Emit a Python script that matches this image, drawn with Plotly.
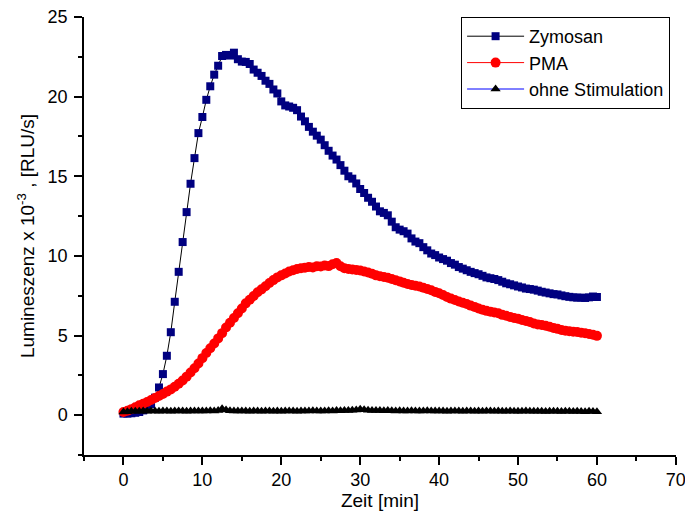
import plotly.graph_objects as go

# time grid (min), sampling every 0.5 min
time_min = [i * 0.5 for i in range(121)]

zymosan = [
    0.10, 0.10, 0.12, 0.15, 0.20, 0.30, 0.45, 0.70, 1.10, 1.74,
    2.58, 3.73, 5.21, 7.12, 9.00, 10.87, 12.75, 14.53, 16.14, 17.71,
    18.72, 19.80, 20.65, 21.38, 21.94, 22.55, 22.62, 22.58, 22.76, 22.35,
    22.20, 22.18, 22.05, 21.70, 21.50, 21.30, 21.00, 20.80, 20.45, 20.20,
    19.70, 19.45, 19.38, 19.30, 19.15, 18.75, 18.45, 18.10, 17.80, 17.55,
    17.30, 16.95, 16.60, 16.30, 16.05, 15.70, 15.35, 15.00, 14.85, 14.55,
    14.20, 13.95, 13.65, 13.40, 13.10, 12.80, 12.70, 12.55, 12.15, 11.80,
    11.65, 11.55, 11.40, 11.10, 10.90, 10.80, 10.55, 10.35, 10.15, 10.05,
    9.90, 9.80, 9.70, 9.55, 9.45, 9.30, 9.20, 9.10, 9.00, 8.92,
    8.85, 8.75, 8.65, 8.60, 8.55, 8.48, 8.38, 8.28, 8.22, 8.15,
    8.08, 8.02, 7.95, 7.92, 7.88, 7.82, 7.75, 7.70, 7.65, 7.60,
    7.58, 7.52, 7.47, 7.43, 7.40, 7.38, 7.38, 7.36, 7.40, 7.45,
    7.42,
]

pma = [
    0.20, 0.28, 0.38, 0.50, 0.62, 0.72, 0.83, 0.95, 1.08, 1.20,
    1.33, 1.48, 1.62, 1.78, 1.97, 2.18, 2.42, 2.68, 2.95, 3.25,
    3.58, 3.90, 4.20, 4.50, 4.82, 5.15, 5.50, 5.80, 6.10, 6.40,
    6.70, 7.02, 7.25, 7.48, 7.72, 7.90, 8.10, 8.30, 8.48, 8.65,
    8.78, 8.90, 9.02, 9.10, 9.18, 9.22, 9.26, 9.30, 9.28, 9.35,
    9.33, 9.40, 9.36, 9.48, 9.55, 9.35, 9.22, 9.18, 9.15, 9.12,
    9.08, 9.02, 8.96, 8.88, 8.78, 8.72, 8.68, 8.63, 8.55, 8.47,
    8.40, 8.32, 8.24, 8.18, 8.13, 8.08, 8.00, 7.92, 7.84, 7.74,
    7.66, 7.55, 7.42, 7.32, 7.23, 7.14, 7.06, 6.98, 6.88, 6.80,
    6.70, 6.62, 6.55, 6.50, 6.45, 6.40, 6.30, 6.24, 6.17, 6.10,
    6.06, 5.98, 5.92, 5.85, 5.76, 5.70, 5.66, 5.62, 5.55, 5.48,
    5.42, 5.35, 5.30, 5.27, 5.24, 5.22, 5.18, 5.14, 5.10, 5.05,
    4.98,
]

ohne_stimulation = [
    0.20, 0.22, 0.24, 0.25, 0.24, 0.26, 0.25, 0.27, 0.26, 0.25,
    0.26, 0.27, 0.25, 0.26, 0.27, 0.26, 0.25, 0.27, 0.26, 0.27,
    0.26, 0.27, 0.28, 0.27, 0.30, 0.40, 0.32, 0.28, 0.27, 0.26,
    0.27, 0.26, 0.25, 0.27, 0.26, 0.25, 0.26, 0.27, 0.25, 0.26,
    0.25, 0.26, 0.27, 0.26, 0.25, 0.26, 0.27, 0.26, 0.28, 0.27,
    0.26, 0.27, 0.28, 0.27, 0.29, 0.28, 0.30, 0.29, 0.31, 0.33,
    0.38, 0.34, 0.31, 0.30, 0.29, 0.30, 0.28, 0.29, 0.28, 0.27,
    0.28, 0.27, 0.26, 0.28, 0.27, 0.26, 0.27, 0.28, 0.26, 0.27,
    0.26, 0.27, 0.25, 0.26, 0.27, 0.26, 0.25, 0.26, 0.27, 0.25,
    0.26, 0.25, 0.26, 0.27, 0.25, 0.26, 0.25, 0.24, 0.26, 0.25,
    0.24, 0.25, 0.26, 0.24, 0.25, 0.24, 0.25, 0.23, 0.24, 0.25,
    0.24, 0.23, 0.24, 0.25, 0.23, 0.24, 0.23, 0.22, 0.24, 0.23,
    0.22,
]

x_ticks = [0, 10, 20, 30, 40, 50, 60, 70]
y_ticks = [0, 5, 10, 15, 20, 25]

FONT = "Liberation Sans, Arial, sans-serif"

fig = go.Figure()
fig.add_trace(go.Scatter(
    x=time_min, y=zymosan, name="Zymosan", mode="lines+markers",
    line=dict(color="black", width=1),
    marker=dict(symbol="square", size=8, color="#000080", line=dict(width=0)),
))
fig.add_trace(go.Scatter(
    x=time_min, y=pma, name="PMA", mode="lines+markers",
    line=dict(color="red", width=1),
    marker=dict(symbol="circle", size=10, color="red", line=dict(width=0)),
))
fig.add_trace(go.Scatter(
    x=time_min, y=ohne_stimulation, name="ohne Stimulation", mode="lines+markers",
    line=dict(color="blue", width=1),
    marker=dict(symbol="triangle-up", size=9, color="black", line=dict(width=0)),
))

fig.update_layout(
    width=685, height=523,
    margin=dict(l=84, r=9, t=17, b=68, autoexpand=False),
    paper_bgcolor="white", plot_bgcolor="white",
    font=dict(family=FONT, color="black", size=18),
    showlegend=True,
    legend=dict(
        x=0.99, y=1.0, xanchor="right", yanchor="top",
        bordercolor="black", borderwidth=1, bgcolor="white",
        font=dict(size=18, family=FONT),
        itemwidth=57, tracegroupgap=0,
    ),
    xaxis=dict(
        range=[-5, 70.02], tickvals=x_ticks, ticktext=[str(v) for v in x_ticks],
        showline=True, linecolor="black", linewidth=1.5,
        ticks="outside", ticklen=8, tickwidth=1.5, tickcolor="black",
        minor=dict(ticks="outside", ticklen=4, tickwidth=1.5, tickcolor="black", dtick=5, tick0=0),
        showgrid=False, zeroline=False, automargin=False,
        tickfont=dict(size=18), ticklabeloverflow="allow",
        title=dict(text="Zeit [min]", font=dict(size=19), standoff=0),
    ),
    yaxis=dict(
        range=[-2.5, 25], tickvals=y_ticks, ticktext=[str(v) for v in y_ticks],
        showline=True, linecolor="black", linewidth=1.5,
        ticks="outside", ticklen=8, tickwidth=1.5, tickcolor="black",
        minor=dict(ticks="outside", ticklen=4, tickwidth=1.5, tickcolor="black", dtick=2.5, tick0=0),
        showgrid=False, zeroline=False, automargin=False,
        tickfont=dict(size=18), ticklabelstandoff=3,
        title=dict(text="Lumineszenz x 10<sup>-3</sup> , [RLU/s]", font=dict(size=19), standoff=8),
    ),
)

fig.write_html(
    "out.html",
    config={"displayModeBar": False},
    post_script="document.body.style.margin='0';document.body.style.padding='0';",
)
